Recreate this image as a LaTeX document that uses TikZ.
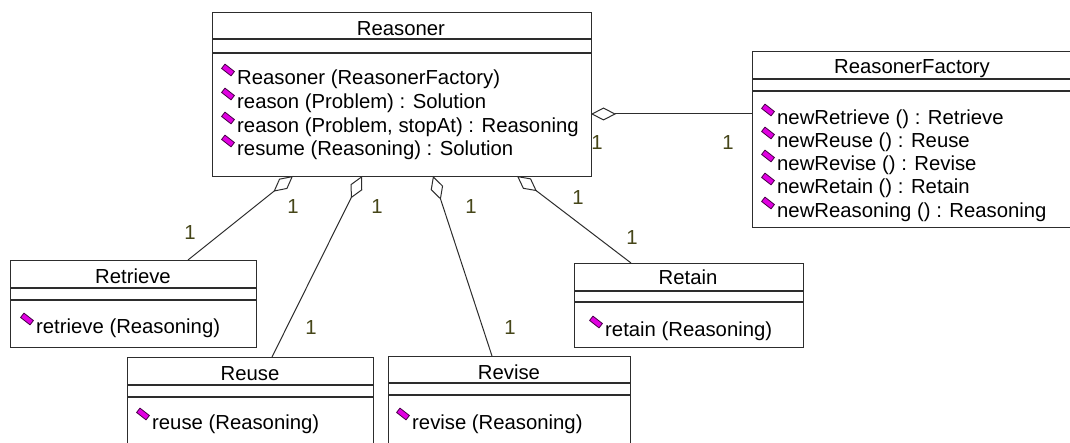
\documentclass[tikz,border=0pt]{standalone}
\usepackage{fontspec}
\setmainfont{Liberation Sans}
\usetikzlibrary{arrows.meta}
\definecolor{edge}{RGB}{45,45,45}
\definecolor{mult}{RGB}{70,70,25}
\definecolor{iconfill}{RGB}{225,0,225}
\definecolor{icondraw}{RGB}{70,0,70}
\begin{document}
\begin{tikzpicture}[x=1pt,y=-1pt,
  cls/.style={draw=edge, line width=1.3pt, anchor=north west, inner sep=0pt},
  sepline/.style={draw=edge, line width=1.3pt},
  ctitle/.style={anchor=base, font=\fontsize{20.3}{24}\selectfont, inner sep=0pt},
  op/.style={anchor=base west, font=\fontsize{20.3}{24}\selectfont, inner sep=0pt},
  mul/.style={text=mult, font=\fontsize{20.3}{24}\selectfont, inner sep=0pt},
  agg/.style={draw=edge, line width=1pt, {Diamond[open,length=25pt,width=13pt,line width=1pt]}-},
  opicon/.style={draw=icondraw, fill=iconfill, line width=0.8pt, rotate=-38,
    minimum width=12pt, minimum height=5.5pt, inner sep=0pt}]
\useasboundingbox (0,0) rectangle (1070,443);
\fill[white] (0,0) rectangle (1070,443);
\clip (0,0) rectangle (1070,443);

% ---------- Reasoner
\node[cls, minimum width=379pt, minimum height=164pt] (reasoner) at (212,12) {};
\draw[sepline] (212,39) -- (591,39);
\draw[sepline] (212,53) -- (591,53);
\node[ctitle] (reasonerT) at (401,36) {Reasoner};
\node[op] (r1) at (237,85) {Reasoner (ReasonerFactory)};
\node[op] (r2) at (237,109) {reason (Problem) : Solution};
\node[op] (r3) at (237,133) {reason (Problem, stopAt) : Reasoning};
\node[op] (r4) at (237,156) {resume (Reasoning) : Solution};
\foreach \n in {r1,r2,r3,r4} \node[opicon] at ([shift={(-9,-15)}]\n.base west) {};

% ---------- ReasonerFactory
\node[cls, minimum width=400pt, minimum height=176pt] (factory) at (752,51) {};
\draw[sepline] (752,79) -- (1075,79);
\draw[sepline] (752,91) -- (1075,91);
\node[ctitle] (factoryT) at (912,74) {ReasonerFactory};
\node[op] (f1) at (777,125) {newRetrieve () : Retrieve};
\node[op] (f2) at (777,148) {newReuse () : Reuse};
\node[op] (f3) at (777,171) {newRevise () : Revise};
\node[op] (f4) at (777,194) {newRetain () : Retain};
\node[op] (f5) at (777,218) {newReasoning () : Reasoning};
\foreach \n in {f1,f2,f3,f4,f5} \node[opicon] at ([shift={(-9,-15)}]\n.base west) {};

% ---------- Retrieve
\node[cls, minimum width=246pt, minimum height=87pt] (retrieve) at (10,260) {};
\draw[sepline] (10,288) -- (256,288);
\draw[sepline] (10,300) -- (256,300);
\node[ctitle] (retrieveT) at (133,284) {Retrieve};
\node[op] (o1) at (36,334) {retrieve (Reasoning)};

% ---------- Reuse
\node[cls, minimum width=246pt, minimum height=120pt] (reuse) at (127,357) {};
\draw[sepline] (127,385) -- (373,385);
\draw[sepline] (127,397) -- (373,397);
\node[ctitle] (reuseT) at (250,380) {Reuse};
\node[op] (o2) at (152,429) {reuse (Reasoning)};

% ---------- Revise
\node[cls, minimum width=242pt, minimum height=120pt] (revise) at (388,356) {};
\draw[sepline] (388,383) -- (630,383);
\draw[sepline] (388,395) -- (630,395);
\node[ctitle] (reviseT) at (509,379) {Revise};
\node[op] (o3) at (412,429) {revise (Reasoning)};

% ---------- Retain
\node[cls, minimum width=229pt, minimum height=84pt] (retain) at (574,263) {};
\draw[sepline] (574,291) -- (803,291);
\draw[sepline] (574,302) -- (803,302);
\node[ctitle] (retainT) at (688,285) {Retain};
\node[op] (o4) at (605,337) {retain (Reasoning)};
\foreach \n in {o1,o2,o3,o4} \node[opicon] at ([shift={(-9,-15)}]\n.base west) {};

% ---------- aggregations
\coordinate (aF) at (591,114); \coordinate (bF) at (752,114);
\coordinate (a1) at (293,176); \coordinate (b1) at (188,260);
\coordinate (a2) at (362,176); \coordinate (b2) at (272,357);
\coordinate (a3) at (433,176); \coordinate (b3) at (492,356);
\coordinate (a4) at (517,176); \coordinate (b4) at (631,263);
\draw[agg] (aF) -- (bF);
\draw[agg] (a1) -- (b1);
\draw[agg] (a2) -- (b2);
\draw[agg] (a3) -- (b3);
\draw[agg] (a4) -- (b4);

% ---------- multiplicities
\node[mul] (mF1) at (597,143) {1};
\node[mul] (mF2) at (728,143) {1};
\node[mul] (m1a) at (293,207) {1};
\node[mul] (m1b) at (190,233) {1};
\node[mul] (m2a) at (377,207) {1};
\node[mul] (m2b) at (311,328) {1};
\node[mul] (m3a) at (471,207) {1};
\node[mul] (m3b) at (510,328) {1};
\node[mul] (m4a) at (578,198) {1};
\node[mul] (m4b) at (632,238) {1};
\end{tikzpicture}
\end{document}
